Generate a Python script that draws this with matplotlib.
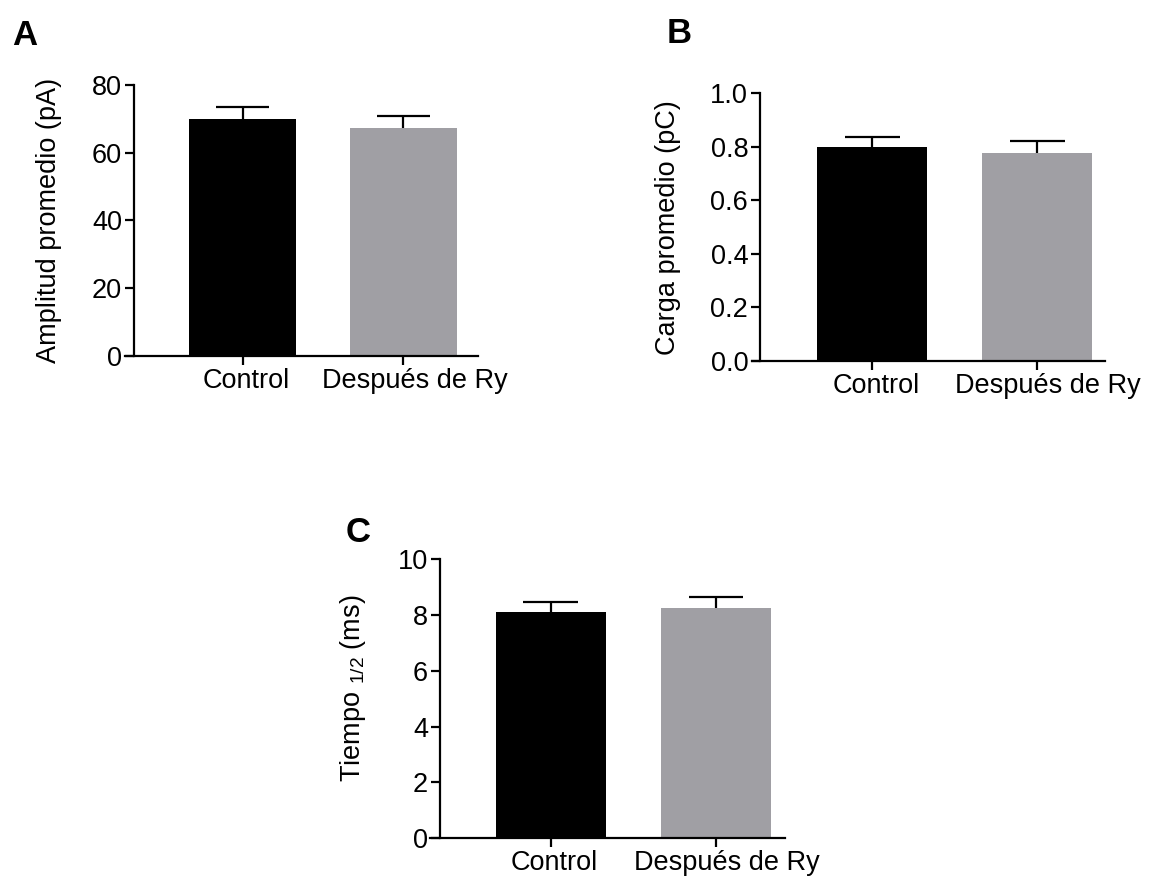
import matplotlib
matplotlib.use("Agg")
import matplotlib.pyplot as plt
import matplotlib.transforms as mtransforms
import numpy as np

plt.rcParams['font.family'] = ['Liberation Sans', 'DejaVu Sans']
plt.rcParams['mathtext.fontset'] = 'custom'
plt.rcParams['mathtext.rm'] = 'Liberation Sans'
plt.rcParams['mathtext.it'] = 'Liberation Sans:italic'

categories = ["Control", "Después de Ry"]
amp_mean = [70.0, 67.3]
amp_sem = [3.5, 3.6]
carga_mean = [0.798, 0.778]
carga_sem = [0.040, 0.045]
tiempo_mean = [8.11, 8.26]
tiempo_sem = [0.34, 0.37]

colors = ["#000000", "#a09fa4"]

W, H = 1156, 880
fig = plt.figure(figsize=(W / 100, H / 100), dpi=100)


def px_axes(left, right, top, bottom):
    return fig.add_axes([left / W, 1 - bottom / H, (right - left) / W, (bottom - top) / H])


def panel(ax, means, sems, ylim, yticks, ylabel, fmt, spine_frac, xlim):
    x = np.arange(len(categories))
    means = np.asarray(means)
    sems = np.asarray(sems)
    ax.bar(x, means, width=0.667, color=colors, zorder=2)
    ax.vlines(x, means, means + sems, color='black', linewidth=1.6, zorder=3)
    ax.hlines(means + sems, x - 0.165, x + 0.165, color='black', linewidth=1.6, zorder=3)
    ax.set_xlim(*xlim)
    ax.set_ylim(*ylim)
    ax.set_yticks(yticks)
    ax.set_yticklabels([fmt.format(v) for v in yticks])
    ax.set_xticks(x)
    ax.set_xticklabels(categories)
    ax.spines['top'].set_visible(False)
    ax.spines['right'].set_visible(False)
    ax.spines['left'].set_position(('axes', spine_frac))
    for s in ('left', 'bottom'):
        ax.spines[s].set_linewidth(1.6)
    ax.tick_params(axis='both', labelsize=19.5, width=1.6, length=6.5, color='black')
    ax.tick_params(axis='y', pad=2)
    ax.tick_params(axis='x', pad=2)
    ax.set_ylabel(ylabel, fontsize=19.5)
    ax.patch.set_alpha(0)
    # small rightward shift of category labels, as in the original
    for lab, dx in zip(ax.get_xticklabels(), [4, 11]):
        lab.set_transform(lab.get_transform() +
                          mtransforms.ScaledTranslation(dx / 100, 0, fig.dpi_scale_trans))


axA = px_axes(125, 478, 85, 356)
panel(axA, amp_mean, amp_sem, (0, 80), [0, 20, 40, 60, 80],
      "Amplitud promedio (pA)", "{:.0f}", 0.0255, (-0.73, 1.463))
axA.yaxis.set_label_coords((62 - 125) / 353, 0.5)

axB = px_axes(751.7, 1105, 93.3, 361)
panel(axB, carga_mean, carga_sem, (0, 1.0), [0.0, 0.2, 0.4, 0.6, 0.8, 1.0],
      "Carga promedio (pC)", "{:.1f}", 0.0235, (-0.731, 1.41))
axB.yaxis.set_label_coords((681 - 751.7) / 353.3, 0.5)

axC = px_axes(430, 785, 559, 838.3)
panel(axC, tiempo_mean, tiempo_sem, (0, 10), [0, 2, 4, 6, 8, 10],
      r"Tiempo $_{\mathregular{1/2}}$ (ms)", "{:.0f}", 0.028, (-0.73, 1.417))
axC.yaxis.set_label_coords((368 - 430) / 355, 0.536)

for lbl, xpx, ypx in [("A", 12, 45), ("B", 667, 43), ("C", 346, 542)]:
    fig.text(xpx / W, 1 - ypx / H, lbl, fontsize=25, fontweight='bold',
             ha='left', va='baseline')

fig.savefig("out.png", dpi=100)
